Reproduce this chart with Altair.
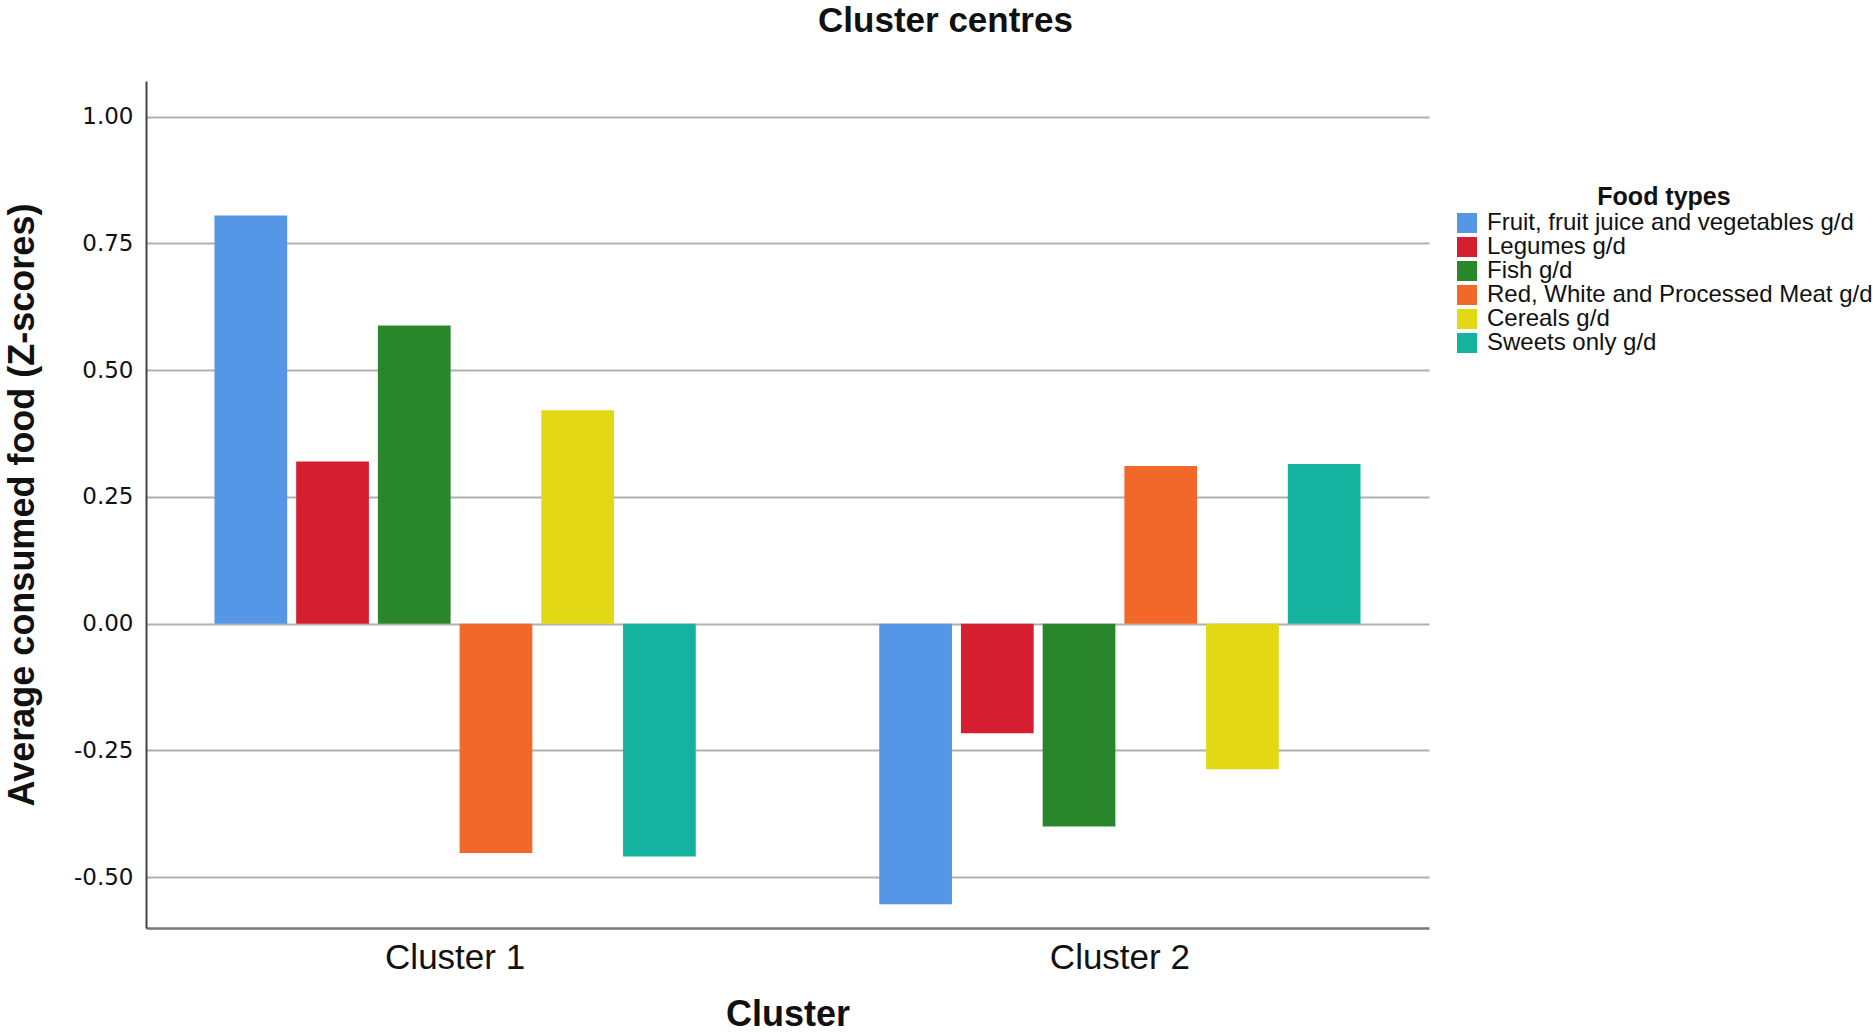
import altair as alt
import pandas as pd

clusters = ["Cluster 1", "Cluster 2"]
foods = [
    "Fruit, fruit juice and vegetables g/d",
    "Legumes g/d",
    "Fish g/d",
    "Red, White and Processed Meat g/d",
    "Cereals g/d",
    "Sweets only g/d",
]
cluster1_values = [0.805, 0.32, 0.588, -0.452, 0.421, -0.459]
cluster2_values = [-0.553, -0.216, -0.40, 0.311, -0.287, 0.315]
colors = ["#5596E6", "#D51F30", "#29862A", "#F2672A", "#E2D813", "#13B3A0"]
y_ticks = [-0.5, -0.25, 0.0, 0.25, 0.5, 0.75, 1.0]

rows = []
for c, vals in zip(clusters, [cluster1_values, cluster2_values]):
    for f, v in zip(foods, vals):
        rows.append({"Cluster": c, "Food": f, "Value": v})
df = pd.DataFrame(rows)

W, H = 1283, 847
LEFT, TOP = 146, 81

chart = alt.Chart(df).mark_bar().encode(
    x=alt.X("Cluster:N", sort=clusters,
            scale=alt.Scale(paddingInner=0.276, paddingOuter=0.103),
            axis=alt.Axis(title="Cluster", labelAngle=0, ticks=False,
                          labelFont="Liberation Sans", labelFontSize=35,
                          labelColor="#111", labelPadding=12,
                          titleFont="Liberation Sans", titleFontSize=36,
                          titleFontWeight="bold", titleColor="#111",
                          titleX=W / 2, titleY=97, titleBaseline="alphabetic",
                          domainColor="#777", domainWidth=2.5, grid=False)),
    xOffset=alt.XOffset("Food:N", sort=foods,
                        scale=alt.Scale(paddingInner=0.11, paddingOuter=0)),
    y=alt.Y("Value:Q",
            scale=alt.Scale(domain=[-0.6, 1.07], nice=False, zero=False),
            axis=alt.Axis(title="Average consumed food (Z-scores)",
                          values=y_ticks, ticks=False,
                          labelExpr="datum.value < 0 ? '-' + format(-datum.value, '.2f') : format(datum.value, '.2f')",
                          labelFont="DejaVu Sans", labelFontSize=23,
                          labelColor="#111", labelPadding=13,
                          titleFont="Liberation Sans", titleFontSize=36,
                          titleFontWeight="bold", titleColor="#111",
                          titleX=-113, titleY=H / 2, titleBaseline="alphabetic",
                          domainColor="#444", domainWidth=2,
                          grid=True, gridColor="#b0b0b0", gridWidth=2)),
    color=alt.Color("Food:N", sort=foods,
                    scale=alt.Scale(domain=foods, range=colors),
                    legend=alt.Legend(title="Food types", orient="none",
                                      legendX=1309, legendY=104,
                                      titleFont="Liberation Sans", titleFontSize=25,
                                      titleFontWeight="bold", titleColor="#111",
                                      titleAnchor="middle", titlePadding=1,
                                      labelFont="Liberation Sans", labelFontSize=24,
                                      labelColor="#111", labelOffset=8,
                                      symbolType="square", symbolSize=400,
                                      symbolStrokeWidth=0, rowPadding=0,
                                      padding=0, labelLimit=600)),
).properties(
    width=W, height=H,
    title=alt.TitleParams("Cluster centres", font="Liberation Sans", fontSize=35,
                          fontWeight="bold", color="#111", anchor="middle",
                          frame="group", dx=158, baseline="alphabetic", offset=14),
    autosize=alt.AutoSizeParams(type="none"),
    background="white",
    padding={"left": LEFT, "top": TOP, "right": 1873 - LEFT - W, "bottom": 1033 - TOP - H},
).configure_view(stroke=None)

chart.save("out.html", embed_options={"renderer": "svg", "actions": False})
